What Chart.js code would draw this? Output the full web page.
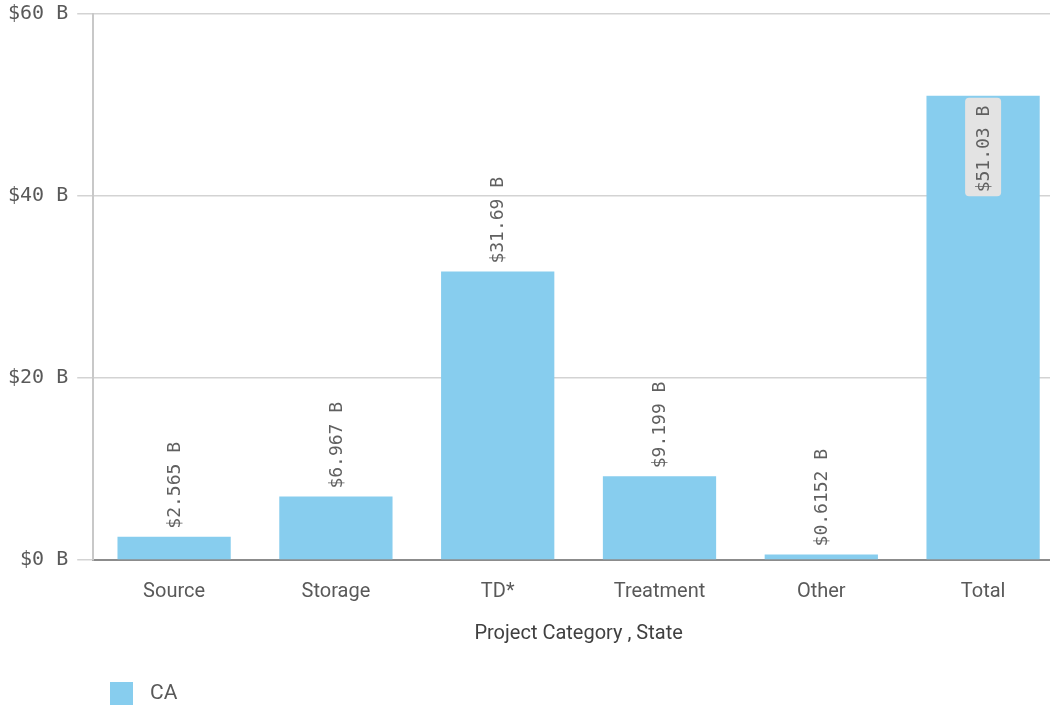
<!DOCTYPE html>
<html>
<head>
<meta charset="utf-8">
<script src="https://cdn.jsdelivr.net/npm/chart.js@4.4.1/dist/chart.umd.min.js"></script>
<style>
  html, body { margin: 0; padding: 0; background: #fff; overflow: hidden; }
  /* plot runs a little past the right edge, as in the original */
  #wrap { width: 1064px; height: 707px; }
</style>
</head>
<body>
<div id="wrap"><canvas id="chart"></canvas></div>
<script>
// data
const categories = ["Source", "Storage", "TD*", "Treatment", "Other", "Total"];
const values = [2.565, 6.967, 31.69, 9.199, 0.6152, 51.03];
const valueLabels = ["$2.565 B", "$6.967 B", "$31.69 B", "$9.199 B", "$0.6152 B", "$51.03 B"];
const yTicks = [0, 20, 40, 60];
const seriesName = "CA";

const BAR = "#87cdee";
const MONO = "'DejaVu Sans Mono', 'Liberation Mono', monospace";
const SANS = "Roboto, 'Noto Sans', sans-serif";

// rotated value labels above the bars, the last one sits inside with a grey box
const barLabels = {
  id: "barLabels",
  afterDatasetsDraw(chart) {
    const ctx = chart.ctx;
    const meta = chart.getDatasetMeta(0);
    ctx.save();
    ctx.font = "18px " + MONO;
    ctx.textBaseline = "middle";
    meta.data.forEach((bar, i) => {
      const txt = valueLabels[i];
      const w = ctx.measureText(txt).width;
      ctx.save();
      if (i === values.length - 1) {
        ctx.translate(bar.x, bar.y + 6);
        ctx.rotate(-Math.PI / 2);
        ctx.fillStyle = "#e3e3e3";
        ctx.beginPath();
        ctx.roundRect(-w - 8, -18, w + 12, 36, 4);
        ctx.fill();
        ctx.fillStyle = "#606060";
        ctx.textAlign = "right";
        ctx.fillText(txt, -4, 1);
      } else {
        ctx.translate(bar.x, bar.y - 8);
        ctx.rotate(-Math.PI / 2);
        ctx.fillStyle = "#606060";
        ctx.textAlign = "left";
        ctx.fillText(txt, 0, 1);
      }
      ctx.restore();
    });
    ctx.restore();
  }
};

// legend drawn by hand at bottom left
const legendBox = {
  id: "legendBox",
  afterDraw(chart) {
    const ctx = chart.ctx;
    ctx.save();
    ctx.fillStyle = BAR;
    ctx.fillRect(110, 682, 23, 23);
    ctx.fillStyle = "#595959";
    ctx.font = "21px " + SANS;
    ctx.textBaseline = "middle";
    ctx.textAlign = "left";
    ctx.fillText(seriesName, 150, 694);
    ctx.restore();
  }
};

new Chart(document.getElementById("chart"), {
  type: "bar",
  data: {
    labels: categories,
    datasets: [{
      label: seriesName,
      data: values,
      backgroundColor: BAR,
      borderWidth: 0,
      barPercentage: 0.70,
      categoryPercentage: 1
    }]
  },
  options: {
    responsive: true,
    maintainAspectRatio: false,
    animation: false,
    layout: { padding: { top: 0, right: 0, bottom: 61, left: -1 } },
    plugins: {
      legend: { display: false },
      tooltip: { enabled: false }
    },
    scales: {
      x: {
        grid: { display: false, drawTicks: false },
        border: { display: true, color: "#8c8c8c", width: 2 },
        ticks: {
          color: "#595959",
          font: { family: SANS, size: 20 },
          padding: 20,
          maxRotation: 0
        },
        title: {
          display: true,
          text: "Project Category , State",
          color: "#404040",
          font: { family: SANS, size: 20 },
          padding: { top: -2, bottom: 0 }
        }
      },
      y: {
        min: 0,
        max: 60,
        afterBuildTicks(axis) { axis.ticks = yTicks.map(v => ({ value: v })); },
        grid: { color: "#d3d3d3", lineWidth: 1.5, tickLength: 16 },
        border: { display: true, color: "#c8c8c8", width: 2 },
        ticks: {
          color: "#595959",
          font: { family: MONO, size: 20, lineHeight: 0.5 },
          padding: 9,
          callback: v => "$" + v + " B"
        }
      }
    }
  },
  plugins: [barLabels, legendBox]
});
</script>
</body>
</html>
